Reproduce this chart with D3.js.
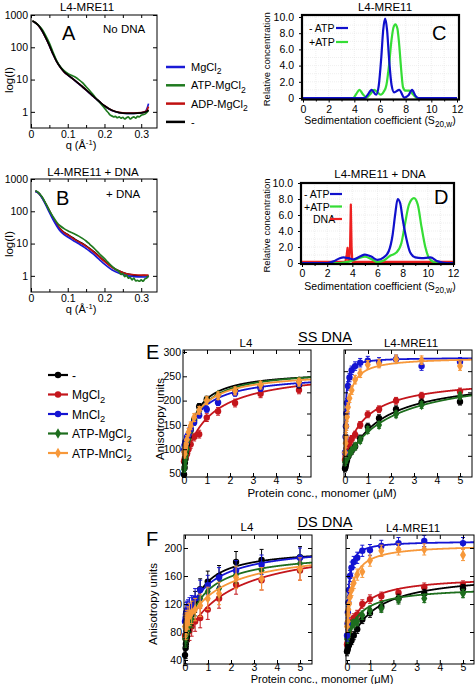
<!DOCTYPE html>
<html><head><meta charset="utf-8">
<script src="https://cdn.jsdelivr.net/npm/d3@7"></script>
<style>body{margin:0;background:#fff}svg{display:block}</style>
</head><body><svg id="c" width="476" height="684"></svg>
<script>
const FONT = '"Liberation Sans", Arial, Helvetica, sans-serif';

// ---------------- SAXS (panels A, B) ----------------
const saxsNames = ["MgCl_{2}", "ATP-MgCl_{2}", "ADP-MgCl_{2}", "-"];
const saxsColors = ["#1a1ad6", "#1f7a1f", "#c01010", "#000000"];
const qTicks = [0, 0.1, 0.2, 0.3];
const qMinor = [0.05, 0.15, 0.25];
const logTicks = [1, 10, 100, 1000];

const qA = [0.004,0.01,0.02,0.03,0.04,0.05,0.06,0.07,0.08,0.09,0.10,0.11,0.12,0.13,0.14,0.15,0.16,0.17,0.18,0.19,0.20,0.22,0.24,0.26,0.28,0.30,0.31,0.315,0.32];
const aBlack = [650,600,480,330,200,115,62,36,24,17.5,14,11.5,9.3,7.5,6.0,4.8,3.8,3.0,2.4,1.9,1.55,1.12,0.95,0.9,0.9,0.93,0.98,1.02,1.15];
const aBlue  = [640,595,475,325,198,113,61,36,24,17.3,13.8,11.3,9.2,7.4,5.9,4.7,3.75,2.95,2.35,1.88,1.52,1.1,0.94,0.9,0.9,0.94,1.0,1.2,1.8];
const aRed   = [645,598,478,328,199,114,62,36,24,17.4,13.9,11.4,9.3,7.5,6.0,4.8,3.8,3.0,2.4,1.9,1.54,1.12,0.96,0.92,0.92,0.95,1.0,1.1,1.45];
const qAG = [0.004,0.01,0.02,0.03,0.04,0.05,0.06,0.07,0.08,0.09,0.10,0.11,0.12,0.13,0.14,0.15,0.16,0.17,0.18,0.19,0.20,0.205,0.21,0.215,0.22,0.225,0.23,0.235,0.24,0.245,0.25,0.255,0.26,0.265,0.27,0.275,0.28,0.285,0.29,0.295,0.30,0.305,0.31,0.315,0.32];
const aGreen = [650,600,490,360,230,135,70,38,25,19,15.5,13.5,12,10,8.0,6.0,4.5,3.3,2.4,1.8,1.3,1.1,0.95,0.8,0.75,0.7,0.72,0.66,0.7,0.64,0.68,0.6,0.66,0.7,0.6,0.66,0.7,0.64,0.72,0.7,0.78,0.82,0.85,0.95,1.1];

const qB = [0.012,0.02,0.03,0.04,0.05,0.06,0.07,0.08,0.09,0.10,0.11,0.12,0.13,0.14,0.15,0.16,0.17,0.18,0.19,0.20,0.22,0.24,0.26,0.28,0.30,0.31,0.315,0.32];
const bBlack = [420,375,270,170,105,62,40,28,22,19,16,13.5,11.5,10,8.5,7,5.7,4.6,3.6,2.9,1.9,1.4,1.15,1.05,1.0,1.02,1.0,1.0];
const bBlue  = [415,370,262,160,92,55,35,24,19,16,13.5,11.5,9.8,8.4,7.0,5.8,4.7,3.7,2.9,2.3,1.55,1.2,1.02,0.95,0.92,0.92,0.92,0.95];
const bRed   = [420,372,268,168,102,60,39,27.5,21.5,18.5,15.5,13,11.2,9.7,8.2,6.8,5.5,4.4,3.5,2.8,1.85,1.4,1.15,1.08,1.05,1.05,1.05,1.05];
const qBG = [0.012,0.02,0.03,0.04,0.05,0.06,0.07,0.08,0.09,0.10,0.11,0.12,0.13,0.14,0.15,0.16,0.17,0.18,0.19,0.20,0.21,0.22,0.23,0.24,0.245,0.25,0.255,0.26,0.265,0.27,0.275,0.28,0.285,0.29,0.295,0.30,0.305,0.31,0.315,0.32];
const bGreen = [430,380,280,175,105,68,46,35,29,25,22,19.5,17,14.5,12,9.5,7.5,5.7,4.4,3.4,2.6,2.0,1.6,1.35,1.1,1.2,0.95,1.05,0.85,0.9,0.75,0.85,0.7,0.72,0.68,0.75,0.68,0.8,0.85,1.0];

// ---------------- Sedimentation (panels C, D) ----------------
const sedTicks = [0, 2, 4, 6, 8, 10, 12];
const concTicksY = [0, 2, 4, 6, 8, 10];
const cBlueS = [0,4.8,5.0,5.35,5.7,5.9,6.1,6.25,6.4,6.55,6.7,6.9,7.1,7.5,7.9,8.2,8.5,8.75,9.0,12];
const cBlueV = [0,0,0.3,1.0,0.4,1.5,5.0,8.4,9.8,8.4,5.0,1.6,0.7,1.0,0.05,0.3,1.0,0.3,0,0];
const cGreenS = [0,3.9,4.15,4.4,4.65,4.95,5.25,5.55,5.8,6.05,6.3,6.5,6.7,6.9,7.05,7.2,7.35,7.5,7.65,7.8,8.0,8.3,8.6,8.9,12];
const cGreenV = [0,0,0.5,1.0,0.5,0.05,0.5,1.0,0.7,0.4,0.8,1.6,4.0,7.2,8.7,9.1,8.6,6.5,3.5,1.3,0.9,0.9,0.4,0,0];
const dBlueS = [0,2.0,2.5,3.0,3.3,3.7,4.1,4.6,5.0,5.5,6.0,6.5,6.9,7.2,7.4,7.6,7.8,8.0,8.3,8.6,9.0,9.5,10.2,10.8,11.5,12];
const dBlueV = [0,0,0.2,0.6,0.7,0.6,0.45,0.8,1.05,0.8,0.4,0.7,1.5,3.5,6.0,8.0,7.5,5.5,3.0,1.3,0.7,0.6,0.7,0.2,0,0];
const dGreenS = [0,3.0,3.5,4.0,4.5,5.0,5.5,6.0,6.5,7.0,7.5,7.9,8.2,8.5,8.9,9.2,9.5,9.8,10.1,10.5,11,12];
const dGreenV = [0,0,0.1,0.3,0.6,0.8,0.5,0.1,0.3,0.9,1.3,2.5,5.0,7.3,8.1,7.3,4.5,2.0,0.6,0.1,0,0];
const dRedS = [0,3.45,3.55,3.62,3.68,3.75,3.82,3.88,3.94,4.0,4.1,12];
const dRedV = [0.15,0.15,1.0,1.9,0.3,0.3,2.0,7.3,2.0,0.15,0.15,0.15];

// ---------------- Anisotropy (panels E, F) ----------------
const bindNames = ["-", "MgCl_{2}", "MnCl_{2}", "ATP-MgCl_{2}", "ATP-MnCl_{2}"];
const bindColors = ["#000000", "#c4161c", "#1414d2", "#1e6e1e", "#f7983a"];
const bindShapes = ["circle", "circle", "circle", "diamond", "diamond"];
const conc = [0, 0.026, 0.039, 0.058, 0.087, 0.13, 0.195, 0.29, 0.44, 0.66, 0.99, 1.48, 2.22, 3.33, 5.0];
const protTicks = [0, 1, 2, 3, 4, 5];

// E, L4 (series order as bindNames)
const eL4 = [
  [48,62,72,80,95,110,125,140,160,188,203,212,222,228,232],
  [75,78,82,80,88,90,100,110,125,131,165,178,195,214,222],
  [98,107,110,115,112,125,130,142,155,170,182,196,215,225,234],
  [58,65,75,82,88,100,120,138,160,178,200,212,220,232,240],
  [95,90,100,105,110,120,135,148,165,180,200,210,220,232,238]
];
const eL4Err = [6, 8, 6, 6, 8];
const eL4Bottom = [50, 72, 100, 60, 92];
const eL4Top = [262, 265, 255, 265, 260];
const eL4Kd = [0.38, 1.1, 0.7, 0.5, 0.6];
// E, L4-MRE11
const eMR = [
  [20,25,30,35,40,48,55,62,72,91,119,139,160,176,178],
  [40,48,52,55,60,72,80,90,100,123,148,160,180,192,202],
  [58,95,120,150,175,215,235,252,262,270,275,272,278,262,272],
  [35,40,42,44,48,50,55,62,72,87,111,123,148,170,192],
  [58,80,95,120,142,165,186,205,230,245,265,268,278,276,262]
];
const eMRErr = [8, 8, 10, 8, 10];
const eMRBottom = [20, 45, 55, 35, 60];
const eMRTop = [240, 235, 282, 250, 283];
const eMRKd = [1.4, 0.9, 0.04, 2.0, 0.15];
// F, L4
const fL4 = [
  [47,57,63,71,74,82,95,105,123,141,152,160,180,183,187],
  [75,72,70,73,76,80,82,88,95,100,112,128,148,154,168],
  [95,100,105,108,110,112,115,118,128,140,147,158,168,176,186],
  [70,72,75,78,82,88,92,98,115,128,138,142,162,168,178],
  [88,85,90,92,95,100,105,108,112,118,128,135,158,156,170]
];
const fL4Err = [15, 14, 14, 12, 16];
const fL4Bottom = [45, 70, 90, 70, 85];
const fL4Top = [200, 210, 205, 195, 200];
const fL4Kd = [0.45, 2.0, 1.0, 0.8, 1.5];
// F, L4-MRE11
const fMR = [
  [52,55,58,60,62,65,68,75,84,98,107,116,128,135,142],
  [62,65,70,75,80,88,95,100,105,120,127,131,136,144,147],
  [75,92,108,122,140,160,172,180,186,196,197,203,207,210,207],
  [70,72,75,78,82,86,90,92,95,104,111,114,126,128,135],
  [88,95,105,112,120,130,140,150,162,166,182,196,198,198,190]
];
const fMRErr = [6, 6, 8, 6, 8];
const fMRBottom = [50, 60, 70, 70, 85];
const fMRTop = [165, 160, 210, 145, 205];
const fMRKd = [1.0, 0.5, 0.07, 0.6, 0.22];

// =====================================================
const svg = d3.select("#c");
svg.append("rect").attr("width", 476).attr("height", 684).attr("fill", "#fff");
const defs = svg.append("defs");

function rich(g, x, y, s, size, anchor, rotate) {
  const t = g.append("text").attr("x", x).attr("y", y).attr("font-size", size)
    .attr("font-family", FONT).attr("fill", "#000").attr("text-anchor", anchor || "start");
  if (rotate) t.attr("transform", `rotate(${rotate},${x},${y})`);
  const parts = s.split(/(_\{[^}]*\}|\^\{[^}]*\})/g).filter(p => p !== "");
  let cur = 0;
  parts.forEach(p => {
    let target = 0, str = p, fs = size;
    if (p.startsWith("_{")) { target = size * 0.3; str = p.slice(2, -1); fs = size * 0.78; }
    else if (p.startsWith("^{")) { target = -size * 0.4; str = p.slice(2, -1); fs = size * 0.7; }
    t.append("tspan").attr("dy", target - cur).attr("font-size", fs).text(str);
    cur = target;
  });
  return t;
}

function axis(g, gen, tx, ty, fs) {
  const a = g.append("g").attr("transform", `translate(${tx},${ty})`).call(gen);
  a.attr("font-size", fs).attr("font-family", FONT);
  a.select(".domain").remove();
  a.selectAll("line").attr("stroke", "#000");
  a.selectAll("text").attr("fill", "#000");
  return a;
}

function clip(id, L, T, R, B) {
  defs.append("clipPath").attr("id", id).append("rect")
    .attr("x", L).attr("y", T).attr("width", R - L).attr("height", B - T);
  return `url(#${id})`;
}

// ---------- SAXS panel ----------
function saxsPanel(cfg) {
  const { L, R, T, B } = cfg;
  const x = d3.scaleLinear([0, 0.343], [L, R]);
  const y = d3.scaleLog([0.316, 1000], [B, T]);
  const g = svg.append("g");
  const lg = g.append("g").attr("clip-path", clip(cfg.id, L, T, R, B));
  const line = d3.line().x(d => x(d[0])).y(d => y(d[1])).curve(d3.curveMonotoneX);
  cfg.series.forEach(s => {
    lg.append("path").datum(d3.zip(s.q, s.v)).attr("fill", "none")
      .attr("stroke", s.color).attr("stroke-width", 1.7).attr("d", line);
  });
  g.append("rect").attr("x", L).attr("y", T).attr("width", R - L).attr("height", B - T)
    .attr("fill", "none").attr("stroke", "#000").attr("stroke-width", 1);
  const fq = d => d === 0 ? "0" : d3.format(".1f")(d);
  axis(g, d3.axisBottom(x).tickValues(qTicks).tickSize(-4).tickPadding(3).tickFormat(fq), 0, B, 10.5);
  axis(g, d3.axisBottom(x).tickValues(qMinor).tickSize(-3).tickFormat(""), 0, B, 10);
  axis(g, d3.axisTop(x).tickValues(qTicks.concat(qMinor)).tickSize(-3).tickFormat(""), 0, T, 10);
  axis(g, d3.axisLeft(y).tickValues(logTicks).tickSize(-4).tickPadding(3).tickFormat(d3.format("d")), L, 0, 10.5);
  axis(g, d3.axisRight(y).tickValues(logTicks).tickSize(-4).tickFormat(""), R, 0, 10);
  rich(g, cfg.titleX, cfg.titleY, cfg.title, 11.5, "middle");
  rich(g, cfg.letterX, cfg.letterY, cfg.letter, 20, "start");
  rich(g, cfg.noteX, cfg.noteY, cfg.note, 11.5, "start");
  rich(g, 13, cfg.ylabY, "log(I)", 11.5, "middle", -90);
  rich(g, 81, cfg.xlabY, "q (Å^{-1})", 11, "middle");
}

saxsPanel({ id: "clA", L: 31, R: 157, T: 15, B: 128,
  series: [
    { q: qA, v: aBlue, color: saxsColors[0] },
    { q: qA, v: aRed, color: saxsColors[2] },
    { q: qAG, v: aGreen, color: saxsColors[1] },
    { q: qA, v: aBlack, color: saxsColors[3] }
  ],
  title: "L4-MRE11", titleX: 87, titleY: 11, letter: "A", letterX: 62, letterY: 40,
  note: "No DNA", noteX: 103, noteY: 33, ylabY: 80, xlabY: 149 });

saxsPanel({ id: "clB", L: 31, R: 157, T: 179, B: 292,
  series: [
    { q: qB, v: bBlack, color: saxsColors[3] },
    { q: qB, v: bRed, color: saxsColors[2] },
    { q: qB, v: bBlue, color: saxsColors[0] },
    { q: qBG, v: bGreen, color: saxsColors[1] }
  ],
  title: "L4-MRE11 + DNA", titleX: 93, titleY: 176, letter: "B", letterX: 56, letterY: 205,
  note: "+ DNA", noteX: 106, noteY: 198, ylabY: 244, xlabY: 313 });

// top legend
saxsNames.forEach((n, i) => {
  const yy = 67 + i * 18.3;
  svg.append("line").attr("x1", 166).attr("x2", 185).attr("y1", yy).attr("y2", yy)
    .attr("stroke", saxsColors[i]).attr("stroke-width", 2.5);
  rich(svg, 191, yy + 4, n, 11, "start");
});

// ---------- Sedimentation panels ----------
function sedPanel(cfg) {
  const { L, R, T, B } = cfg;
  const x = d3.scaleLinear([0, 12], [cfg.x0, cfg.x12]);
  const y = d3.scaleLinear([0, 10], [cfg.y0, cfg.y10]);
  const g = svg.append("g");
  const grid = g.append("g");
  d3.range(1, 12).forEach(v => grid.append("line").attr("x1", x(v)).attr("x2", x(v)).attr("y1", T).attr("y2", B)
    .attr("stroke", "#e4e4e4").attr("stroke-width", 0.6).attr("stroke-dasharray", "1,1"));
  d3.range(1, 11).forEach(v => grid.append("line").attr("x1", L).attr("x2", R).attr("y1", y(v)).attr("y2", y(v))
    .attr("stroke", "#e4e4e4").attr("stroke-width", 0.6).attr("stroke-dasharray", "1,1"));
  const lg = g.append("g").attr("clip-path", clip(cfg.id, L, T, R, B));
  cfg.series.forEach(s => {
    const ln = d3.line().x(d => x(d[0])).y(d => y(d[1])).curve(s.linear ? d3.curveLinear : d3.curveMonotoneX);
    lg.append("path").datum(d3.zip(s.s, s.v)).attr("fill", "none").attr("stroke", s.color)
      .attr("stroke-width", 2.2).attr("stroke-linejoin", "round").attr("d", ln);
  });
  g.append("rect").attr("x", L).attr("y", T).attr("width", R - L).attr("height", B - T)
    .attr("fill", "none").attr("stroke", "#000").attr("stroke-width", 2.2);
  axis(g, d3.axisBottom(x).tickValues(sedTicks).tickSize(3).tickPadding(3).tickFormat(d3.format("d")), 0, B, 10.5);
  axis(g, d3.axisBottom(x).tickValues(d3.range(1, 12, 2)).tickSize(2).tickFormat(""), 0, B, 10);
  axis(g, d3.axisLeft(y).tickValues(concTicksY).tickSize(3).tickPadding(5).tickFormat(d => d === 0 ? "0" : d3.format(".1f")(d)), L, 0, 10.5);
  rich(g, cfg.titleX, cfg.titleY, cfg.title, 11.5, "middle");
  rich(g, cfg.letterX, cfg.letterY, cfg.letter, 20, "start");
  rich(g, 270, (T + B) / 2 + 2, "Relative concentration", 9.5, "middle", -90);
  rich(g, 380, cfg.xlabY, "Sedimentation coefficient (S_{20,w})", 10.5, "middle");
  cfg.legend.forEach((it, i) => {
    const yy = cfg.legY + i * cfg.legDy;
    rich(g, it.tx, yy + 4, it.name, 10.5, "start");
    g.append("line").attr("x1", cfg.legX1).attr("x2", cfg.legX2).attr("y1", yy).attr("y2", yy)
      .attr("stroke", it.color).attr("stroke-width", 2.2);
  });
}

sedPanel({ id: "clC", L: 302, R: 459, T: 15, B: 99.5, x0: 303, x12: 457, y0: 98, y10: 17,
  series: [
    { s: cGreenS, v: cGreenV, color: "#35dd35" },
    { s: cBlueS, v: cBlueV, color: "#1010cc" }
  ],
  title: "L4-MRE11", titleX: 385, titleY: 11, letter: "C", letterX: 432, letterY: 40, xlabY: 124,
  legY: 28, legDy: 14, legX1: 336, legX2: 348,
  legend: [{ name: "- ATP", color: "#1010cc", tx: 309 }, { name: "+ATP", color: "#35dd35", tx: 309 }] });

sedPanel({ id: "clD", L: 301, R: 454, T: 183, B: 264, x0: 302, x12: 453, y0: 263, y10: 183,
  series: [
    { s: dRedS, v: dRedV, color: "#ee2020", linear: true },
    { s: dGreenS, v: dGreenV, color: "#35dd35" },
    { s: dBlueS, v: dBlueV, color: "#1010cc" }
  ],
  title: "L4-MRE11 + DNA", titleX: 380, titleY: 178, letter: "D", letterX: 434, letterY: 204, xlabY: 290,
  legY: 194, legDy: 12.5, legX1: 330, legX2: 342,
  legend: [{ name: "- ATP", color: "#1010cc", tx: 304 }, { name: "+ATP", color: "#35dd35", tx: 304 },
           { name: "DNA", color: "#ee2020", tx: 313 }] });

// ---------- Anisotropy panels ----------
function marker(g, shape, cx, cy, color) {
  if (shape === "circle") {
    g.append("circle").attr("cx", cx).attr("cy", cy).attr("r", 3.2).attr("fill", color);
  } else {
    g.append("path").attr("transform", `translate(${cx},${cy})`)
      .attr("d", d3.symbol(d3.symbolDiamond, 32)()).attr("fill", color);
  }
}

function bindPanel(cfg) {
  const { L, R, T, B } = cfg;
  const x = d3.scaleLinear([0, 5], [cfg.x0, cfg.x5]);
  const y = cfg.y;
  const g = svg.append("g");
  const pg = g.append("g").attr("clip-path", clip(cfg.id, L - 4, T, R, B + 4));
  const xs = d3.range(0, 5.6, 0.01);
  cfg.order.forEach(i => {
    const c = bindColors[i];
    const fit = xs.map(v => [v, cfg.bottom[i] + (cfg.top[i] - cfg.bottom[i]) * v / (cfg.kd[i] + v)]);
    pg.append("path").datum(fit).attr("fill", "none").attr("stroke", c).attr("stroke-width", 1.8)
      .attr("d", d3.line().x(d => x(d[0])).y(d => y(d[1])));
    cfg.data[i].forEach((v, k) => {
      const cx = x(conc[k]), e = cfg.err[i];
      pg.append("line").attr("x1", cx).attr("x2", cx).attr("y1", y(v - e)).attr("y2", y(v + e)).attr("stroke", c).attr("stroke-width", 1);
      [v - e, v + e].forEach(w => pg.append("line").attr("x1", cx - 2).attr("x2", cx + 2).attr("y1", y(w)).attr("y2", y(w)).attr("stroke", c).attr("stroke-width", 1));
      marker(pg, bindShapes[i], cx, y(v), c);
    });
  });
  g.append("rect").attr("x", L).attr("y", T).attr("width", R - L).attr("height", B - T)
    .attr("fill", "none").attr("stroke", "#000").attr("stroke-width", 1);
  axis(g, d3.axisBottom(x).tickValues(protTicks).tickSize(-4).tickPadding(0).tickFormat(d3.format("d")), 0, B, 10.5);
  axis(g, d3.axisTop(x).tickValues(protTicks).tickSize(-4).tickFormat(""), 0, T, 10);
  const yl = d3.axisLeft(y).tickValues(cfg.yTicks).tickSize(-4).tickPadding(2);
  if (cfg.yLabels) yl.tickFormat(d3.format("d")); else yl.tickFormat("");
  axis(g, yl, L, 0, 10.5);
  const rs = cfg.rightScale || y;
  axis(g, d3.axisRight(rs).tickValues(cfg.rightTicks || cfg.yTicks).tickSize(-4).tickFormat(""), R, 0, 10);
  rich(g, cfg.titleX, cfg.titleY, cfg.title, 11.5, "middle");
}

const yE_L4 = d3.scaleLinear([50, 300], [473.5, 352]);
const yE_MR = d3.scaleLinear([0, 300], [477, 350]);
const yF = d3.scaleLinear([40, 200], [660, 548]);
const eTicks = [50, 100, 150, 200, 250, 300];
const eRightTicks = [50, 100, 150, 200, 250];
const fTicks = [40, 80, 120, 160, 200];
const drawOrder = [1, 0, 3, 2, 4];

bindPanel({ id: "clE1", L: 183, R: 311, T: 350, B: 477, x0: 184, x5: 299, y: yE_L4, yTicks: eTicks, yLabels: true,
  rightScale: yE_MR, rightTicks: eRightTicks,
  data: eL4, err: eL4Err, bottom: eL4Bottom, top: eL4Top, kd: eL4Kd, order: drawOrder,
  title: "L4", titleX: 246, titleY: 347 });
bindPanel({ id: "clE2", L: 344, R: 472, T: 350, B: 477, x0: 345, x5: 460, y: yE_MR, yTicks: eRightTicks, yLabels: false,
  data: eMR, err: eMRErr, bottom: eMRBottom, top: eMRTop, kd: eMRKd, order: drawOrder,
  title: "L4-MRE11", titleX: 411, titleY: 347 });
bindPanel({ id: "clF1", L: 184, R: 312, T: 535, B: 664, x0: 185, x5: 300, y: yF, yTicks: fTicks, yLabels: true,
  data: fL4, err: fL4Err, bottom: fL4Bottom, top: fL4Top, kd: fL4Kd, order: drawOrder,
  title: "L4", titleX: 247, titleY: 531 });
bindPanel({ id: "clF2", L: 346, R: 474, T: 535, B: 664, x0: 347, x5: 463, y: yF, yTicks: fTicks, yLabels: false,
  data: fMR, err: fMRErr, bottom: fMRBottom, top: fMRTop, kd: fMRKd, order: drawOrder,
  title: "L4-MRE11", titleX: 413, titleY: 532 });

// E/F decorations
rich(svg, 146, 359, "E", 20, "start");
rich(svg, 146, 546, "F", 20, "start");
rich(svg, 164, 419, "Anisotropy units", 11.5, "middle", -90);
rich(svg, 157, 604, "Anisotropy units", 11.5, "middle", -90);
rich(svg, 322, 497, "Protein conc., monomer (μM)", 11.5, "middle");
rich(svg, 322, 683, "Protein conc., monomer (μM)", 11, "middle");
[["SS DNA", 342], ["DS DNA", 527]].forEach(([s, yy]) => {
  const t = rich(svg, 325, yy, s, 14.5, "middle");
  const w = t.node().getComputedTextLength();
  svg.append("line").attr("x1", 325 - w / 2).attr("x2", 325 + w / 2).attr("y1", yy + 2.5).attr("y2", yy + 2.5)
    .attr("stroke", "#000").attr("stroke-width", 1.1);
});

// bottom legend
bindNames.forEach((n, i) => {
  const yy = 375 + i * 19.5;
  svg.append("line").attr("x1", 48).attr("x2", 68).attr("y1", yy).attr("y2", yy)
    .attr("stroke", bindColors[i]).attr("stroke-width", 2.2);
  marker(svg, bindShapes[i], 58, yy, bindColors[i]);
  rich(svg, 72, yy + 4.5, n, 12, "start");
});
</script></body></html>
